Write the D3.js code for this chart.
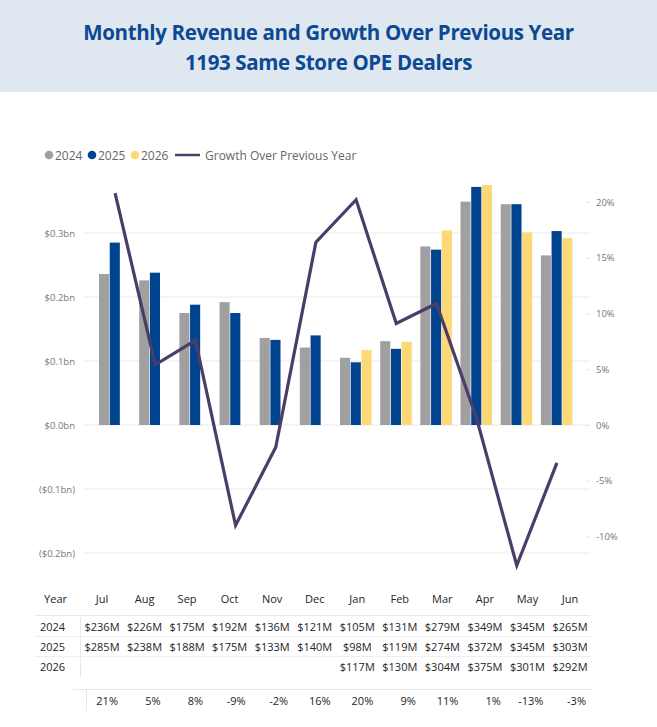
<!DOCTYPE html>
<html><head><meta charset="utf-8">
<script src="https://cdn.jsdelivr.net/npm/d3@7"></script>
<style>
body{margin:0;background:#fff;}
svg{display:block;font-family:"Open Sans","Noto Sans",sans-serif;}
</style></head>
<body><svg id="c" width="657" height="727"></svg>
<script>
const months = ["Jul","Aug","Sep","Oct","Nov","Dec","Jan","Feb","Mar","Apr","May","Jun"];
const years = ["2024","2025","2026"];
const rev2024 = [236,226,175,192,136,121,105,131,279,349,345,265];
const rev2025 = [285,238,188,175,133,140,98,119,274,372,345,303];
const rev2026 = [null,null,null,null,null,null,117,130,304,375,301,292];
const growth = [20.8,5.4,7.6,-9.0,-2.0,16.4,20.2,9.1,10.9,0.6,-12.6,-3.4];
const growthLabels = ["21%","5%","8%","-9%","-2%","16%","20%","9%","11%","1%","-13%","-3%"];
const leftTicks = [-0.2,-0.1,0,0.1,0.2,0.3];
const rightTicks = [-10,-5,0,5,10,15,20];
const colors = {"2024":"#a0a0a0","2025":"#00438f","2026":"#fdd877"};
const lineColor = "#4b3d67";

const svg = d3.select("#c");
// header
svg.append("rect").attr("x",0).attr("y",0).attr("width",657).attr("height",92).attr("fill","#dfe7f1");
const title = svg.append("text").attr("text-anchor","middle").attr("fill","#0b4a92")
  .attr("font-size",20.5).attr("font-weight",700).style("letter-spacing","-0.35px");
title.append("tspan").attr("x",328.5).attr("y",40).text("Monthly Revenue and Growth Over Previous Year");
title.append("tspan").attr("x",328.5).attr("y",70).text("1193 Same Store OPE Dealers");

// scales
const x = d3.scaleBand().domain(months).range([95,577]).paddingInner(0.2).paddingOuter(0.1);
const xs = d3.scaleBand().domain(years).range([0,x.bandwidth()]);
const y = d3.scaleLinear().domain([-0.2,0.3]).range([553,233]);
const y2 = d3.scaleLinear().domain([0,20]).range([425,202]);

// gridlines
svg.append("g").selectAll("line").data(leftTicks).join("line")
  .attr("x1",83).attr("x2",590).attr("y1",d=>y(d)).attr("y2",d=>y(d))
  .attr("stroke","#eaeaea").attr("stroke-width",1);

// left axis
const yAxis = d3.axisLeft(y).tickValues(leftTicks).tickSize(0).tickPadding(0)
  .tickFormat(d=> d<0 ? "($"+Math.abs(d).toFixed(1)+"bn)" : "$"+d.toFixed(1)+"bn");
const gl = svg.append("g").attr("transform","translate(75,0)").call(yAxis);
gl.select(".domain").remove();
gl.selectAll("text").attr("fill","#777").attr("font-size",9.5).attr("font-family","'Open Sans',sans-serif");

// right axis
const y2Axis = d3.axisRight(y2).tickValues(rightTicks).tickSize(4).tickPadding(6)
  .tickFormat(d=>d+"%");
const gr = svg.append("g").attr("transform","translate(586,0)").call(y2Axis);
gr.select(".domain").remove();
gr.selectAll("line").attr("stroke","#e6e6e6");
gr.selectAll("text").attr("fill","#777").attr("font-size",9.5).attr("font-family","'Open Sans',sans-serif");

// bars
const rows = months.map((m,i)=>({m, v:{"2024":rev2024[i],"2025":rev2025[i],"2026":rev2026[i]}}));
const gb = svg.append("g");
rows.forEach(r=>{
  years.forEach(yr=>{
    const v = r.v[yr];
    if(v==null) return;
    const val = v/1000;
    gb.append("rect")
      .attr("x", x(r.m)+xs(yr))
      .attr("width", xs.bandwidth()-0.6)
      .attr("y", y(Math.max(0,val)))
      .attr("height", Math.abs(y(val)-y(0)))
      .attr("fill", colors[yr]);
  });
});

// growth line
const line = d3.line().x((d,i)=>x(months[i])+x.bandwidth()/2).y(d=>y2(d));
svg.append("path").datum(growth).attr("d",line).attr("fill","none")
  .attr("stroke",lineColor).attr("stroke-width",3.2).attr("stroke-linejoin","miter");

// legend
const lg = svg.append("g").attr("font-size",12).attr("fill","#666");
const legItems = [{t:"2024",c:colors["2024"],x:49},{t:"2025",c:colors["2025"],x:92},{t:"2026",c:colors["2026"],x:135}];
legItems.forEach(it=>{
  lg.append("circle").attr("cx",it.x).attr("cy",155).attr("r",4.3).attr("fill",it.c);
  lg.append("text").attr("x",it.x+6).attr("y",159.5).attr("fill","#666").text(it.t);
});
lg.append("line").attr("x1",175).attr("x2",200).attr("y1",155).attr("y2",155).attr("stroke",lineColor).attr("stroke-width",2.5);
lg.append("text").attr("x",205).attr("y",159.5).attr("fill","#666").text("Growth Over Previous Year");

// table
const tx = d3.scalePoint().domain(months).range([102,570]);
const tg = svg.append("g").attr("font-size",11).attr("fill","#252423");
tg.append("text").attr("x",67).attr("y",603).attr("text-anchor","end").text("Year");
months.forEach(m=>tg.append("text").attr("x",tx(m)).attr("y",603).attr("text-anchor","middle").text(m));
// lines
tg.append("line").attr("x1",35).attr("x2",590).attr("y1",615.5).attr("y2",615.5).attr("stroke","#e8e8e8");
tg.append("line").attr("x1",35).attr("x2",590).attr("y1",636.5).attr("y2",636.5).attr("stroke","#efefef");
tg.append("line").attr("x1",35).attr("x2",590).attr("y1",656.5).attr("y2",656.5).attr("stroke","#efefef");
tg.append("line").attr("x1",80.5).attr("x2",80.5).attr("y1",615).attr("y2",677).attr("stroke","#e8e8e8");
tg.append("line").attr("x1",73).attr("x2",593).attr("y1",689.5).attr("y2",689.5).attr("stroke","#e8e8e8");
tg.append("line").attr("x1",86.5).attr("x2",86.5).attr("y1",689).attr("y2",711).attr("stroke","#e8e8e8");
const series = [rev2024,rev2025,rev2026];
const rowY = [631,651,671];
series.forEach((s,ri)=>{
  tg.append("text").attr("x",40).attr("y",rowY[ri]).text(years[ri]);
  s.forEach((v,i)=>{
    if(v==null) return;
    tg.append("text").attr("x",tx(months[i])).attr("y",rowY[ri]).attr("text-anchor","middle").text("$"+v+"M");
  });
});
growthLabels.forEach((g,i)=>{
  tg.append("text").attr("x",tx(months[i])+16).attr("y",705).attr("text-anchor","end").text(g);
});
</script></body></html>
